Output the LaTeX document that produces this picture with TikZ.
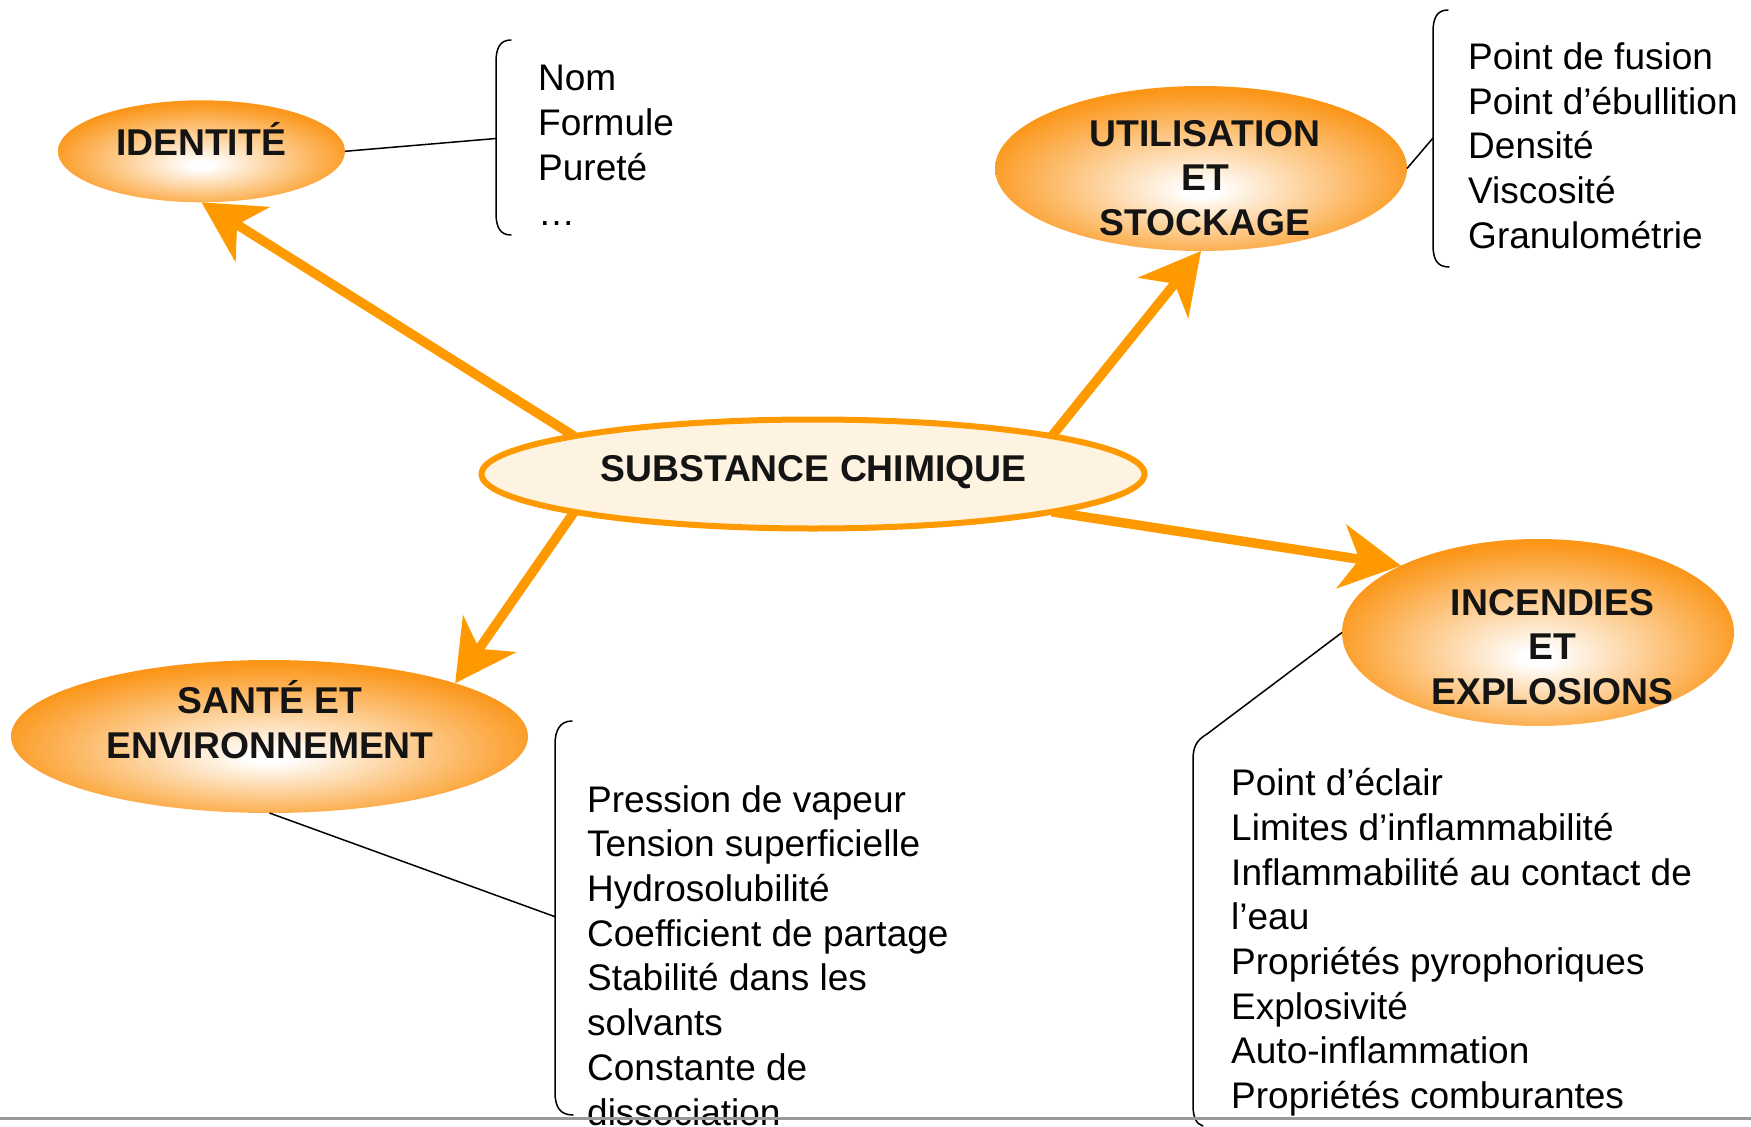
\documentclass[tikz,border=0pt]{standalone}
\usepackage{fontspec}
\setmainfont{Liberation Sans}
\usetikzlibrary{shapes.geometric,arrows.meta,backgrounds}
\definecolor{OrA}{RGB}{255,153,0}
\definecolor{OrEdge}{RGB}{251,150,25}
\definecolor{SubFill}{RGB}{254,242,224}
\definecolor{TitleInk}{RGB}{20,20,20}
\pgfdeclareradialshading{orglow}{\pgfpoint{0bp}{-7bp}}{color(0bp)=(white); color(2bp)=(white); color(27bp)=(OrEdge); color(50bp)=(OrEdge)}
\tikzset{
  ell/.style={ellipse, inner sep=0pt, outer sep=0pt, shading=orglow},
  titletext/.style={font=\fontsize{37.3}{44.5}\selectfont\bfseries, align=center, inner sep=0pt, text=TitleInk, anchor=base},
  listtext/.style={font=\fontsize{37}{44.7}\selectfont, align=left, inner sep=0pt, anchor=base west},
  bigarrow/.style={draw=OrA, fill=OrA, line width=9.5pt, -{Stealth[length=60pt, width=64pt, inset=18pt]}},
  conn/.style={draw=black, line width=1.5pt},
  brk/.style={draw=black, line width=1.5pt, line cap=round}
}
\begin{document}
\begin{tikzpicture}[x=1pt, y=-1pt]
\useasboundingbox (0,0) rectangle (1751,1127);
% ellipses
\node[ell, minimum width=287pt, minimum height=102pt] (ident) at (201.5,151.3) {};
\node[ell, minimum width=412pt, minimum height=165pt] (util) at (1201,168.5) {};
\node[ell, minimum width=517pt, minimum height=153pt] (sante) at (269.5,736.5) {};
\node[ell, minimum width=392pt, minimum height=187pt] (inc) at (1538,632.5) {};
\node[ellipse, draw=OrA, line width=6pt, fill=SubFill, minimum width=663pt, minimum height=109pt, inner sep=0pt, outer sep=0pt] (sub) at (813,474) {};
% titles (base anchor = baseline of the last line)
\node[titletext] (ident-t) at (201,155) {IDENTITÉ};
\node[titletext] (sub-t) at (813.5,481.7) {SUBSTANCE CHIMIQUE};
\node[titletext] (util-t) at (1205,235) {UTILISATION\\ET\\STOCKAGE};
\node[titletext] (sante-t) at (270,758.3) {SANTÉ ET\\ENVIRONNEMENT};
\node[titletext] (inc-t) at (1552.5,704) {INCENDIES\\ET\\EXPLOSIONS};
% arrows
\begin{scope}[on background layer]
\draw[bigarrow] (sub.171) -- (ident.south);
\draw[bigarrow] (sub.9) -- (util.south);
\draw[bigarrow] (sub.189) -- (sante.16);
\draw[bigarrow] (sub.351) -- (inc.154);
\end{scope}
% lists (base anchor = baseline of the last line)
\node[listtext] (l1) at (538,225) {Nom\\Formule\\Pureté\\…};
\node[listtext] (l2) at (1468,248.3) {Point de fusion\\Point d’ébullition\\Densité\\Viscosité\\Granulométrie};
\node[listtext] (l3) at (587,1125) {Pression de vapeur\\Tension superficielle\\Hydrosolubilité\\Coefficient de partage\\Stabilité dans les\\solvants\\Constante de\\dissociation};
\node[listtext] (l4) at (1231,1108.5) {Point d’éclair\\Limites d’inflammabilité\\Inflammabilité au contact de\\l’eau\\Propriétés pyrophoriques\\Explosivité\\Auto-inflammation\\Propriétés comburantes};
% connectors and brackets
\coordinate (j1) at (496,138.5);
\coordinate (j2) at (1433,138);
\coordinate (j3) at (555,916.7);
\coordinate (j4) at (1207,734);
\draw[conn] (ident.east) -- (j1);
\draw[conn] (util.east) -- (j2);
\draw[conn] (sante.south) -- (j3);
\draw[conn] (inc.west) -- (j4);
\draw[brk] (511,40) .. controls (500,40) and (496,48) .. (496,62) -- (496,213) .. controls (496,227) and (500,235) .. (511,235);
\draw[brk] (1448,10) .. controls (1437,10) and (1433,18) .. (1433,32) -- (1433,245) .. controls (1433,259) and (1437,267) .. (1449,267);
\draw[brk] (572,721) .. controls (560,721) and (555,730) .. (555,745) -- (555,1092) .. controls (555,1107) and (560,1115) .. (573,1115);
\draw[brk] (j4) .. controls (1197,740) and (1193,746) .. (1193,760) -- (1193,1105) .. controls (1193,1117) and (1196,1124) .. (1203,1126);
% bottom rule
\draw[draw=black!40, line width=3pt] (0,1118) -- (1751,1118);
\end{tikzpicture}
\end{document}
